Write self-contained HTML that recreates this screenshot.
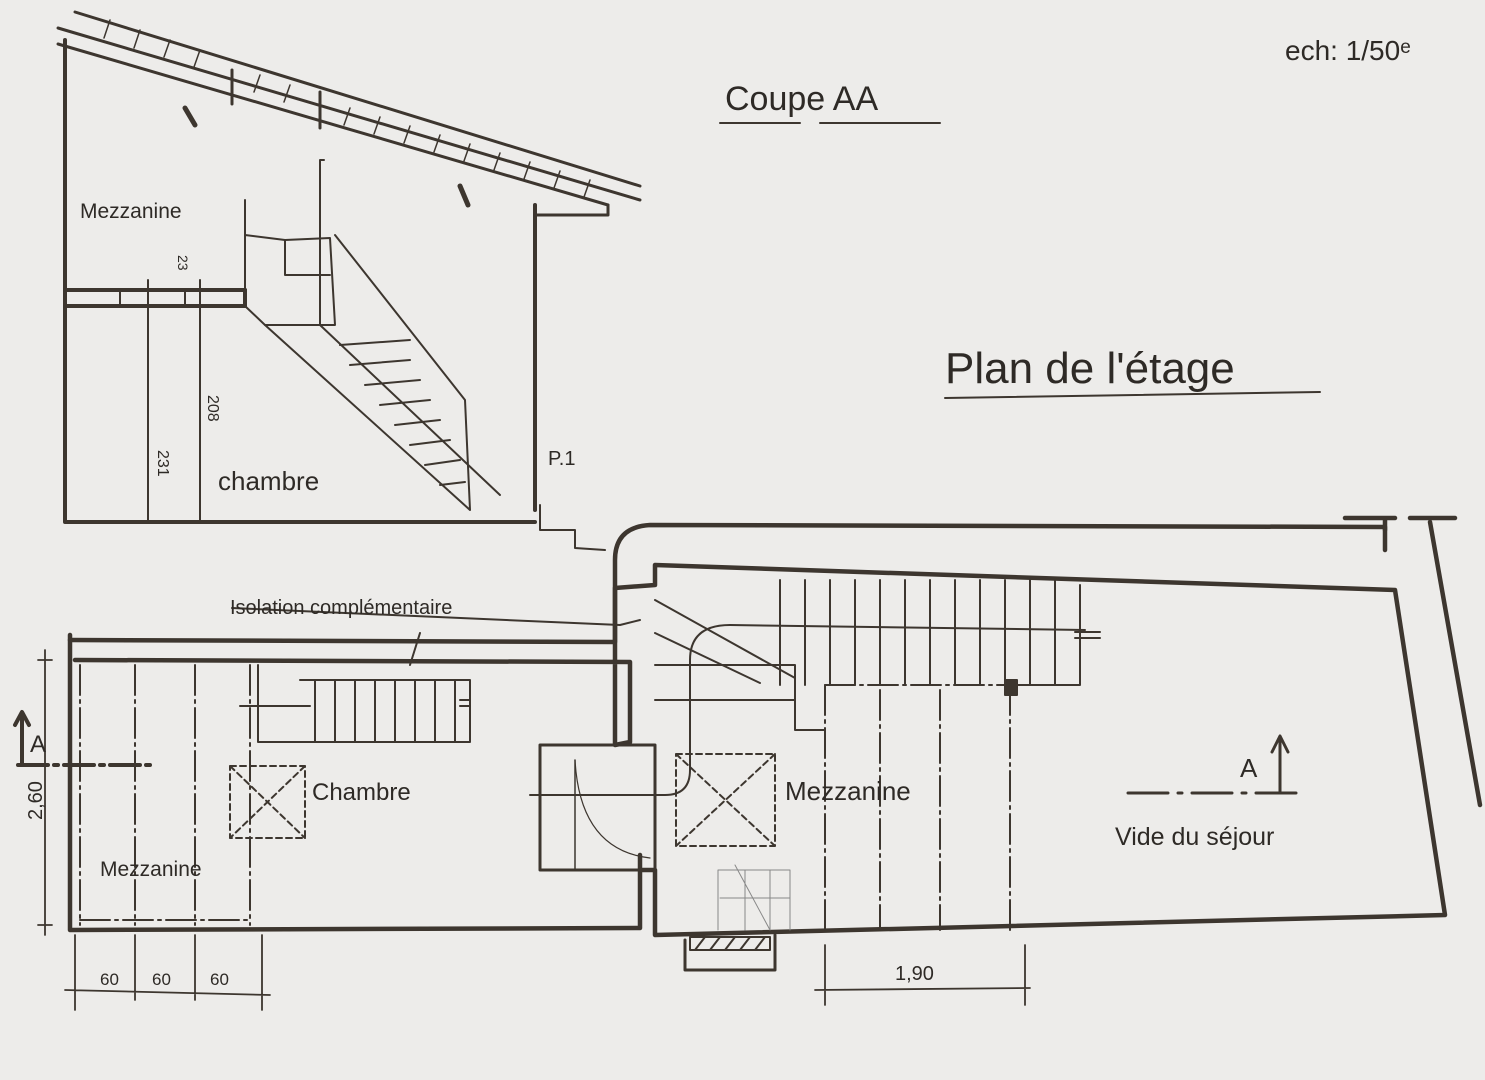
<!DOCTYPE html>
<html><head><meta charset="utf-8"><style>
html,body{margin:0;padding:0;background:#edecea;}
svg{display:block}
text{font-family:"Liberation Sans",sans-serif;fill:#2e2a26}
</style></head><body>
<svg width="1485" height="1080" viewBox="0 0 1485 1080" xmlns="http://www.w3.org/2000/svg">
<rect width="1485" height="1080" fill="#edecea"/>
<g fill="none" stroke="#3d362f" stroke-linecap="round" stroke-linejoin="round">
<!-- Section: roof -->
<g stroke-width="3">
<path d="M58 28 L640 200"/>
<path d="M75 12 L640 186"/>
<path d="M58 44 L608 205"/>
<path d="M232 70 L232 104 M320 92 L320 128"/>
<path d="M608 205 L608 215 L535 215"/>
</g>
<g stroke-width="1.5">
<path d="M110 20 L104 38 M140 30 L134 48 M170 40 L164 57 M200 50 L194 67 M260 75 L254 92 M290 85 L284 102 M350 108 L344 125 M380 117 L374 134 M410 126 L404 143 M440 135 L434 152 M470 144 L464 161 M500 153 L494 170 M530 162 L524 179 M560 171 L554 188 M590 180 L584 197"/>
</g>
<g stroke-width="5">
<path d="M185 108 L195 125 M460 186 L468 205"/>
</g>
<!-- section walls -->
<g stroke-width="4">
<path d="M65 40 L65 522 L535 522"/>
<path d="M535 205 L535 510"/>
<path d="M65 290 L245 290 M65 306 L245 306"/>
<path d="M245 290 L245 306"/>
</g>
<g stroke-width="2">
<path d="M320 160 L320 325 M320 160 L324 160"/>
<path d="M540 505 L540 530 L575 530 L575 548 L605 550"/>
<path d="M245 200 L245 290 M245 235 L285 240 L330 238 L335 325 L265 325 L245 306"/>
<path d="M285 240 L285 275 L330 275"/>
<path d="M265 325 L470 510 M320 325 L500 495 M335 235 L465 400 L470 510"/>
<path d="M340 345 L410 340 M350 365 L410 360 M365 385 L420 380 M380 405 L430 400 M395 425 L440 420 M410 445 L450 440 M425 465 L460 460 M440 485 L465 482"/>
<path d="M148 280 L148 522 M200 280 L200 522"/>
<path d="M120 290 L120 306 M185 290 L185 306"/>
</g>
<!-- Plan outer walls -->
<g stroke-width="4.5">
<path d="M70 635 L70 930 L640 928 L640 855"/>
<path d="M70 640 L615 642 L615 560 Q615 527 650 525 L1385 527 L1385 550"/>
<path d="M75 660 L630 662 L630 742 L615 745 L615 588 L655 585 L655 565 L1395 590 L1445 915 L655 935 L655 870 L640 870"/>
<path d="M540 745 L655 745 L655 870 L540 870 Z" stroke-width="3"/>
<path d="M1345 518 L1395 518 M1410 518 L1455 518 M1385 518 L1385 530 M1430 522 L1480 805"/>
<path d="M685 940 L685 970 L775 970 L775 935" stroke-width="3"/>
</g>
<!-- Plan interior -->
<g stroke-width="2">
<path d="M258 665 L258 742 L470 742 M300 680 L470 680 L470 742"/>
<path d="M315 680 L315 742 M335 680 L335 742 M355 680 L355 742 M375 680 L375 742 M395 680 L395 742 M415 680 L415 742 M435 680 L435 742 M455 680 L455 742"/>
<path d="M240 706 L310 706 M460 700 L470 700 M460 706 L470 706"/>
<path d="M655 600 L795 678 L795 685 M655 633 L760 683 M655 665 L795 665 L795 730 M655 700 L795 700 M795 730 L825 730"/>
<path d="M780 580 L780 685 M805 580 L805 685 M830 580 L830 685 M855 580 L855 685 M880 580 L880 685 M905 580 L905 685 M930 580 L930 685 M955 580 L955 685 M980 580 L980 685 M1005 580 L1005 685 M1030 580 L1030 685 M1055 580 L1055 685 M1080 585 L1080 685 L1010 685"/>
<path d="M530 795 L665 795 Q690 795 690 770 L690 660 Q690 625 730 625 L1085 630 M1075 632 L1100 632 M1075 638 L1100 638"/>
<path d="M825 685 L825 935 M1010 685 L1010 935" stroke-dasharray="30 5 3 5"/>
<path d="M825 685 L1010 685" stroke-dasharray="30 5 3 5"/>
<path d="M880 690 L880 930 M940 690 L940 930" stroke-dasharray="30 5 3 5"/>
<path d="M80 665 L80 925 M135 665 L135 925 M195 665 L195 925 M250 665 L250 925" stroke-dasharray="30 5 3 5"/>
<path d="M80 920 L250 920" stroke-dasharray="30 5 3 5"/>
<path d="M230 766 L305 766 L305 838 L230 838 Z M230 766 L305 838 M305 766 L230 838" stroke-dasharray="6 4"/>
<path d="M676 754 L775 754 L775 846 L676 846 Z M676 754 L775 846 M775 754 L676 846" stroke-dasharray="6 4"/>
<path d="M575 760 Q580 850 650 858" stroke-width="1.2"/>
<path d="M575 760 L575 870" stroke-width="1.5"/>
<path d="M232 608 L620 625 L640 620"/>
<path d="M420 633 L410 665"/>
<path d="M18 765 L150 765" stroke-dasharray="30 6 4 6" stroke-width="4"/>
<path d="M22 765 L22 715 M15 725 L22 712 L29 725" stroke-width="4"/>
<path d="M1128 793 L1300 793" stroke-dasharray="40 10 4 10" stroke-width="3"/>
<path d="M1280 793 L1280 740 M1272 752 L1280 736 L1288 752" stroke-width="3"/>
<path d="M1005 680 L1017 680 L1017 695 L1005 695 Z" fill="#3d362f"/>
<path d="M690 937 L770 937 L770 950 L690 950 Z M695 950 L705 937 M710 950 L720 937 M725 950 L735 937 M740 950 L750 937 M755 950 L765 937"/>
</g>
<g stroke-width="1" stroke="#888">
<path d="M718 870 L790 870 L790 930 M718 870 L718 930 M745 870 L745 930 M770 870 L770 930 M735 865 L770 930 M720 898 L790 898"/>
</g>
<!-- dimensions -->
<g stroke-width="1.8">
<path d="M45 650 L45 935 M38 660 L52 660 M38 925 L52 925"/>
<path d="M75 935 L75 1010 M135 935 L135 1000 M195 935 L195 1000 M262 935 L262 1010 M65 990 L270 995"/>
<path d="M825 945 L825 1005 M1025 945 L1025 1005 M815 990 L1030 988"/>
</g>
<g stroke-width="2">
<path d="M720 123 L800 123 M820 123 L940 123"/>
<path d="M945 398 L1320 392"/>
</g>
</g>
<g>
<text x="725" y="110" font-size="34">Coupe AA</text>
<text x="1285" y="60" font-size="28">ech: 1/50ᵉ</text>
<text x="945" y="383" font-size="44">Plan de l'étage</text>
<text x="80" y="218" font-size="21">Mezzanine</text>
<text x="218" y="490" font-size="26">chambre</text>
<text x="548" y="465" font-size="20">P.1</text>
<text x="230" y="614" font-size="20">Isolation complémentaire</text>
<text x="312" y="800" font-size="24">Chambre</text>
<text x="100" y="876" font-size="21">Mezzanine</text>
<text x="785" y="800" font-size="26">Mezzanine</text>
<text x="1240" y="777" font-size="26">A</text>
<text x="30" y="752" font-size="24">A</text>
<text x="1115" y="845" font-size="25">Vide du séjour</text>
<text x="100" y="985" font-size="17">60</text>
<text x="152" y="985" font-size="17">60</text>
<text x="210" y="985" font-size="17">60</text>
<text x="895" y="980" font-size="20">1,90</text>
<text x="0" y="0" font-size="20" transform="translate(42,820) rotate(-90)">2,60</text>
<text x="0" y="0" font-size="16" transform="translate(158,450) rotate(90)">231</text>
<text x="0" y="0" font-size="16" transform="translate(208,395) rotate(90)">208</text>
<text x="0" y="0" font-size="14" transform="translate(178,255) rotate(90)">23</text>
</g>
</svg>
</body></html>
